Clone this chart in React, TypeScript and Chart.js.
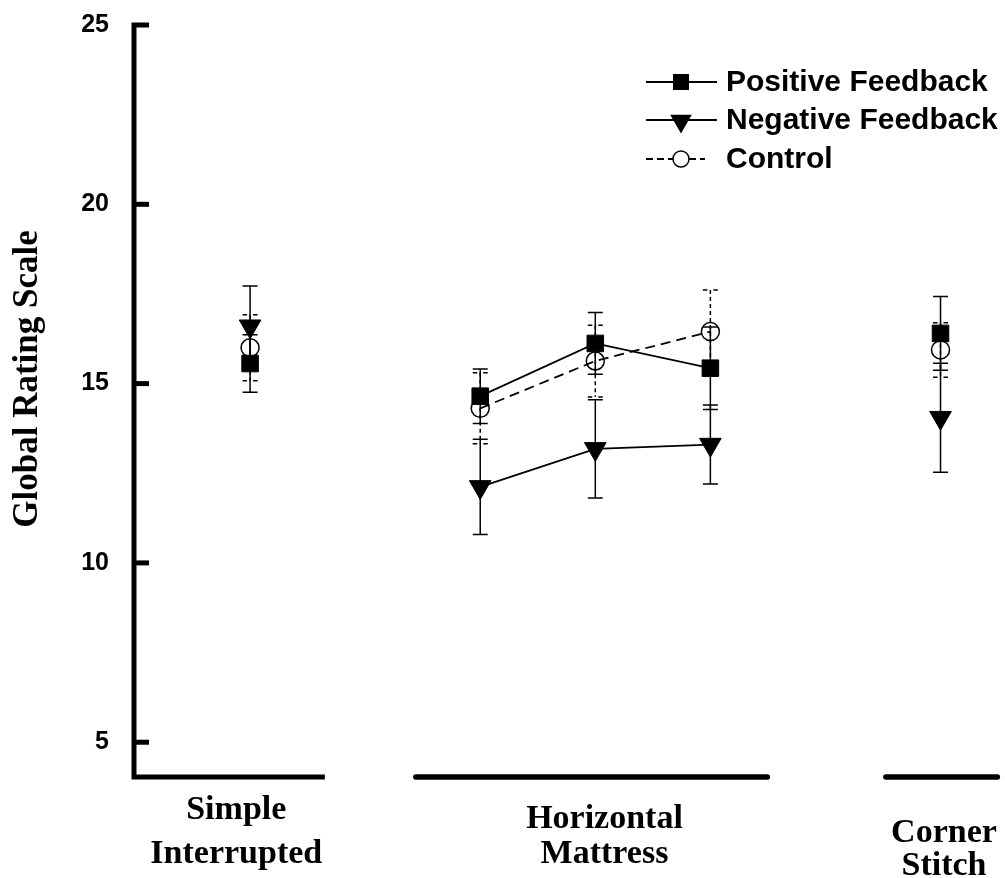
import React, { useEffect, useRef } from 'react';
import { Chart, registerables } from 'chart.js';

Chart.register(...registerables);

// ---- data ----
const conditionNames = ['Simple Interrupted', 'Horizontal Mattress 1', 'Horizontal Mattress 2', 'Horizontal Mattress 3', 'Corner Stitch'];
const conditionPos = [0, 2, 3, 4, 6];
const conditionGroup = [0, 1, 1, 1, 2];
const groupLabels = [['Simple', 'Interrupted'], ['Horizontal', 'Mattress'], ['Corner', 'Stitch']];
const yTickValues = [5, 10, 15, 20, 25];

const positiveMean = [15.56, 14.65, 16.12, 15.43, 16.4];
const positiveErr = [0.8, 0.76, 0.86, 1.15, 1.03];
const negativeMean = [16.6, 12.12, 13.18, 13.3, 14.05];
const negativeErr = [1.12, 1.33, 1.37, 1.1, 1.52];
const controlMean = [16.0, 14.31, 15.63, 16.45, 15.94];
const controlErr = [0.92, 0.99, 1.0, 1.16, 0.76];

const seriesLabels = ['Positive Feedback', 'Negative Feedback', 'Control'];
const yTitle = 'Global Rating Scale';

// ---- layout (not data) ----
const LAYOUT = {
  xMin: -1,
  xMax: 6.443,
  yMin: 4.03,
  yMax: 25,
  axisX: 134,
  tickLen: 15,
  axisSegments: [[-1, 0.65], [1.44, 4.495], [5.525, 6.494]],
  groupLabelPos: [-0.12, 3.08, 6.03],
  groupLabelBaselines: [[819, 863], [828, 863], [842, 875]],
  legendLineX: [646, 717],
  legendMarkerX: 681,
  legendTextX: 726,
  legendRowsY: [82, 120, 159],
};

const SANS = '"Liberation Sans", Arial, sans-serif';
const SERIF = '"Liberation Serif", "Times New Roman", serif';

function makePoints(means: number[]) {
  return means.map((m, i) => ({ x: conditionPos[i], y: m }));
}

const sameGroup = (c: any) => conditionGroup[c.p0DataIndex] === conditionGroup[c.p1DataIndex];

const customDraw = {
  id: 'customDraw',
  beforeDatasetsDraw(chart: any) {
    const ctx = chart.ctx;
    const xs = chart.scales.x;
    const ys = chart.scales.y;
    chart.data.datasets.forEach((ds: any) => {
      const dashed = !!ds.errDashed;
      ctx.save();
      ctx.strokeStyle = '#000';
      ctx.lineWidth = 1.5;
      ds.data.forEach((p: any, i: number) => {
        const x = xs.getPixelForValue(p.x);
        const yT = ys.getPixelForValue(p.y + ds.errors[i]);
        const yB = ys.getPixelForValue(p.y - ds.errors[i]);
        ctx.setLineDash(dashed ? [4, 3] : []);
        ctx.beginPath();
        ctx.moveTo(x, yT);
        ctx.lineTo(x, yB);
        ctx.stroke();
        ctx.setLineDash([]);
        ctx.beginPath();
        if (dashed) {
          for (const yy of [yT, yB]) {
            ctx.moveTo(x - 7.5, yy); ctx.lineTo(x - 3, yy);
            ctx.moveTo(x + 3, yy); ctx.lineTo(x + 7.5, yy);
          }
        } else {
          for (const yy of [yT, yB]) {
            ctx.moveTo(x - 7.5, yy); ctx.lineTo(x + 7.5, yy);
          }
        }
        ctx.stroke();
      });
      ctx.restore();
    });
  },
  afterDraw(chart: any) {
    const ctx = chart.ctx;
    const xs = chart.scales.x;
    const ys = chart.scales.y;
    const area = chart.chartArea;
    ctx.save();
    ctx.strokeStyle = '#000';
    ctx.fillStyle = '#000';

    // y axis + first x segment
    const yTop = ys.getPixelForValue(LAYOUT.yMax);
    const bottom = area.bottom;
    ctx.lineWidth = 5;
    ctx.lineJoin = 'miter';
    ctx.lineCap = 'butt';
    ctx.beginPath();
    ctx.moveTo(LAYOUT.axisX + LAYOUT.tickLen, yTop);
    ctx.lineTo(LAYOUT.axisX, yTop);
    ctx.lineTo(LAYOUT.axisX, bottom);
    ctx.lineTo(xs.getPixelForValue(LAYOUT.axisSegments[0][1]), bottom);
    ctx.stroke();
    // ticks
    yTickValues.forEach((v) => {
      if (v === LAYOUT.yMax) return;
      const y = ys.getPixelForValue(v);
      ctx.beginPath();
      ctx.moveTo(LAYOUT.axisX, y);
      ctx.lineTo(LAYOUT.axisX + LAYOUT.tickLen, y);
      ctx.stroke();
    });
    // other x segments
    ctx.lineCap = 'round';
    ctx.lineWidth = 5.5;
    LAYOUT.axisSegments.slice(1).forEach(([a, b]) => {
      ctx.beginPath();
      ctx.moveTo(xs.getPixelForValue(a), bottom);
      ctx.lineTo(xs.getPixelForValue(b), bottom);
      ctx.stroke();
    });

    // x group labels
    ctx.font = `bold 34px ${SERIF}`;
    ctx.textAlign = 'center';
    ctx.textBaseline = 'alphabetic';
    groupLabels.forEach((lines, g) => {
      const x = xs.getPixelForValue(LAYOUT.groupLabelPos[g]);
      lines.forEach((t, j) => ctx.fillText(t, x, LAYOUT.groupLabelBaselines[g][j]));
    });

    // y title
    ctx.save();
    ctx.translate(37, 379);
    ctx.rotate(-Math.PI / 2);
    ctx.font = `bold 35px ${SERIF}`;
    ctx.textAlign = 'center';
    ctx.textBaseline = 'alphabetic';
    ctx.fillText(yTitle, 0, 0);
    ctx.restore();

    // legend
    chart.data.datasets.forEach((ds: any, i: number) => {
      const y = LAYOUT.legendRowsY[i];
      const mx = LAYOUT.legendMarkerX;
      ctx.lineWidth = 1.8;
      ctx.lineCap = 'butt';
      ctx.setLineDash(ds.errDashed ? [7, 4] : []);
      ctx.beginPath();
      if (ds.errDashed) {
        ctx.moveTo(LAYOUT.legendLineX[0], y); ctx.lineTo(mx - 8, y);
        ctx.moveTo(mx + 8, y); ctx.lineTo(LAYOUT.legendLineX[1] - 12, y);
      } else {
        ctx.moveTo(LAYOUT.legendLineX[0], y); ctx.lineTo(LAYOUT.legendLineX[1], y);
      }
      ctx.stroke();
      ctx.setLineDash([]);
      ctx.beginPath();
      if (ds.pointStyle === 'rect') {
        ctx.fillRect(mx - 8, y - 8, 16, 16);
      } else if (ds.pointStyle === 'triangle') {
        const r = 12.5;
        const cy = y + 1;
        ctx.moveTo(mx, cy + r);
        ctx.lineTo(mx - r * 0.866, cy - r / 2);
        ctx.lineTo(mx + r * 0.866, cy - r / 2);
        ctx.closePath();
        ctx.fill();
      } else {
        ctx.fillStyle = '#fff';
        ctx.arc(mx, y, 8, 0, Math.PI * 2);
        ctx.fill();
        ctx.fillStyle = '#000';
        ctx.lineWidth = 1.5;
        ctx.stroke();
      }
      ctx.font = `bold 30px ${SANS}`;
      ctx.textAlign = 'left';
      ctx.textBaseline = 'middle';
      ctx.fillText(ds.label, LAYOUT.legendTextX, y + 1);
    });

    ctx.restore();
  },
};

export default function App() {
  const canvasRef = useRef<HTMLCanvasElement | null>(null);

  useEffect(() => {
    if (!canvasRef.current) return;
    const chart = new Chart(canvasRef.current, {
      type: 'line',
      data: {
        datasets: [
          {
            label: seriesLabels[0],
            data: makePoints(positiveMean),
            errors: positiveErr,
            borderColor: '#000',
            borderWidth: 1.8,
            pointStyle: 'rect',
            pointRadius: 11.7,
            pointBackgroundColor: '#000',
            pointBorderColor: '#000',
            pointBorderWidth: 1,
            segment: { borderColor: (c: any) => (sameGroup(c) ? '#000' : 'rgba(0,0,0,0)') },
          } as any,
          {
            label: seriesLabels[1],
            data: makePoints(negativeMean),
            errors: negativeErr,
            borderColor: '#000',
            borderWidth: 1.8,
            pointStyle: 'triangle',
            pointRotation: 180,
            pointRadius: 12.5,
            pointBackgroundColor: '#000',
            pointBorderColor: '#000',
            pointBorderWidth: 1,
            segment: { borderColor: (c: any) => (sameGroup(c) ? '#000' : 'rgba(0,0,0,0)') },
          } as any,
          {
            label: seriesLabels[2],
            data: makePoints(controlMean),
            errors: controlErr,
            errDashed: true,
            borderColor: '#000',
            borderWidth: 1.8,
            borderDash: [10, 6],
            pointStyle: 'circle',
            pointRadius: 9,
            pointBackgroundColor: 'rgba(0,0,0,0)',
            pointBorderColor: '#000',
            pointBorderWidth: 1.5,
            segment: { borderColor: (c: any) => (sameGroup(c) ? '#000' : 'rgba(0,0,0,0)') },
          } as any,
        ],
      },
      options: {
        responsive: false,
        animation: false,
        events: [],
        layout: { padding: { left: 0, top: 25, right: 0, bottom: 101 } },
        plugins: { legend: { display: false }, tooltip: { enabled: false }, title: { display: false } },
        scales: {
          x: { type: 'linear', min: LAYOUT.xMin, max: LAYOUT.xMax, display: false },
          y: {
            type: 'linear',
            min: LAYOUT.yMin,
            max: LAYOUT.yMax,
            afterBuildTicks: (scale: any) => {
              scale.ticks = yTickValues.map((v) => ({ value: v }));
            },
            afterFit: (scale: any) => {
              scale.width = 135;
              scale.paddingTop = 0;
              scale.paddingBottom = 0;
            },
            grid: { display: false, drawTicks: false, tickLength: 0 },
            border: { display: false },
            ticks: {
              padding: 26,
              color: '#000',
              font: { family: SANS, size: 25, weight: 'bold' },
              callback: (v: any) => String(v),
            },
          },
        },
      } as any,
      plugins: [customDraw],
    });
    return () => chart.destroy();
  }, []);

  return (
    <div style={{ position: 'absolute', left: 0, top: 0, width: 1005, height: 878, background: '#fff' }}>
      <canvas ref={canvasRef} width={1005} height={878} style={{ display: 'block' }} />
    </div>
  );
}
